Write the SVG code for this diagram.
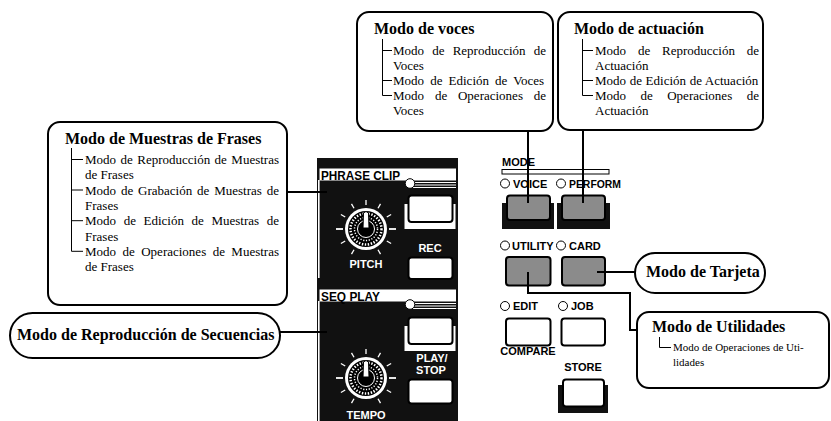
<svg xmlns="http://www.w3.org/2000/svg" width="831" height="421" viewBox="0 0 831 421">
  <defs>
    <style>
      .box { fill: #fff; stroke: #000; stroke-width: 2; }
      .wire { fill: none; stroke: #000; stroke-width: 2; }
      .tree { fill: none; stroke: #000; stroke-width: 1; }
      .title { font-family: "Liberation Serif", "Times New Roman", serif; font-weight: bold; font-size: 16px; fill: #000; }
      .item { font-family: "Liberation Serif", "Times New Roman", serif; font-size: 13px; fill: #000; }
      .item-sm { font-family: "Liberation Serif", "Times New Roman", serif; font-size: 11px; fill: #000; }
      .lbl { font-family: "Liberation Sans", Arial, sans-serif; font-weight: bold; font-size: 11px; fill: #000; }
      .plbl { font-family: "Liberation Sans", Arial, sans-serif; font-weight: bold; font-size: 11px; fill: #fff; text-anchor: middle; }
      .sect { font-family: "Liberation Sans", Arial, sans-serif; font-weight: bold; font-size: 12px; fill: #000; }
      .led { fill: #fff; stroke: #000; stroke-width: 1; }
      .btn-gray { fill: #8b8b8b; stroke: #000; stroke-width: 2; }
      .btn-white { fill: #fff; stroke: #000; stroke-width: 2; }
      .shadow { fill: #111; }
      .tick { stroke: #fff; stroke-width: 1.3; }
      .stripe { stroke: #fff; stroke-width: 1; }
    </style>
    <!-- rotary knob with scale ticks, centred on the origin -->
    <g id="knob">
      <g class="tick">
        <line x1="0" y1="-24" x2="0" y2="-29"/>
        <line x1="0" y1="-24" x2="0" y2="-29" transform="rotate(30)"/>
        <line x1="0" y1="-24" x2="0" y2="-29" transform="rotate(60)"/>
        <line x1="0" y1="-23" x2="0" y2="-30" transform="rotate(90)" stroke-width="1.8"/>
        <line x1="0" y1="-24" x2="0" y2="-29" transform="rotate(120)"/>
        <line x1="0" y1="-24" x2="0" y2="-29" transform="rotate(150)"/>
        <line x1="0" y1="-24" x2="0" y2="-29" transform="rotate(-30)"/>
        <line x1="0" y1="-24" x2="0" y2="-29" transform="rotate(-60)"/>
        <line x1="0" y1="-23" x2="0" y2="-30" transform="rotate(-90)" stroke-width="1.8"/>
        <line x1="0" y1="-24" x2="0" y2="-29" transform="rotate(-120)"/>
        <line x1="0" y1="-24" x2="0" y2="-29" transform="rotate(-150)"/>
      </g>
      <circle r="21" fill="#fff"/>
      <circle r="18" fill="#000"/>
      <circle r="15.5" fill="none" stroke="#fff" stroke-width="2.5" stroke-dasharray="1.4 1.6"/>
      <circle r="11.5" fill="none" stroke="#fff" stroke-width="1.5" stroke-dasharray="1.2 1.6"/>
      <circle r="8.5" fill="#000" stroke="#fff" stroke-width="1"/>
      <path d="M-3,-1 L-2.5,-16 Q0,-19 2.5,-16 L3,-1 Z" fill="#fff" stroke="#000" stroke-width="1"/>
    </g>
  </defs>

  <rect width="831" height="421" fill="#fff"/>

  <!-- front panel: PHRASE CLIP and SEQ PLAY sections -->
  <g id="panel-left">
    <rect x="317" y="158" width="141" height="263" fill="#111"/>
    <!-- PHRASE CLIP -->
    <rect x="319.5" y="168.5" width="136.5" height="12" fill="#fff"/>
    <text class="sect" x="321" y="179.5" textLength="79" lengthAdjust="spacingAndGlyphs">PHRASE CLIP</text>
    <line class="stripe" x1="412" y1="182.5" x2="456" y2="182.5"/>
    <line class="stripe" x1="412" y1="185" x2="456" y2="185"/>
    <line class="stripe" x1="412" y1="187.5" x2="456" y2="187.5"/>
    <circle class="led" cx="410" cy="183.5" r="4.8"/>
    <rect x="318" y="180" width="1.6" height="98" fill="#fff"/>
    <rect x="404.5" y="204" width="51" height="25" fill="#fff"/>
    <rect class="btn-white" x="408.5" y="195.5" width="44" height="26.5" rx="3"/>
    <text class="plbl" x="430" y="252">REC</text>
    <rect class="btn-white" x="408.5" y="257.5" width="44" height="21.5" rx="3"/>
    <use href="#knob" x="366" y="229"/>
    <text class="plbl" x="366" y="268">PITCH</text>
    <!-- SEQ PLAY -->
    <rect x="319.5" y="289.5" width="136.5" height="12" fill="#fff"/>
    <text class="sect" x="321" y="300.5" textLength="59" lengthAdjust="spacingAndGlyphs">SEQ PLAY</text>
    <line class="stripe" x1="412" y1="303.5" x2="456" y2="303.5"/>
    <line class="stripe" x1="412" y1="306" x2="456" y2="306"/>
    <line class="stripe" x1="412" y1="308.5" x2="456" y2="308.5"/>
    <circle class="led" cx="410" cy="304.5" r="4.8"/>
    <rect x="318" y="301" width="1.6" height="120" fill="#fff"/>
    <rect x="404.5" y="326" width="51" height="25" fill="#fff"/>
    <rect class="btn-white" x="408.5" y="317.5" width="44" height="26.5" rx="3"/>
    <text class="plbl" x="432" y="361.5">PLAY/</text>
    <text class="plbl" x="431" y="373.5">STOP</text>
    <rect class="btn-white" x="408.5" y="379.5" width="44" height="24" rx="3"/>
    <use href="#knob" x="366" y="378"/>
    <text class="plbl" x="366" y="419">TEMPO</text>
  </g>

  <!-- MODE button block -->
  <g id="panel-mode">
    <text class="lbl" x="502" y="166" font-size="12">MODE</text>
    <rect x="502" y="169.5" width="107" height="4.5" fill="#fff" stroke="#000" stroke-width="1"/>
    <circle class="led" cx="505" cy="183.5" r="4.5"/>
    <text class="lbl" x="513" y="187.5">VOICE</text>
    <circle class="led" cx="561" cy="183.5" r="4.5"/>
    <text class="lbl" x="569" y="187.5" textLength="52" lengthAdjust="spacingAndGlyphs">PERFORM</text>
    <rect class="shadow" x="502" y="203" width="52" height="26"/>
    <rect class="shadow" x="557" y="203" width="53" height="26"/>
    <rect class="btn-gray" x="507" y="195.5" width="43" height="24.5" rx="3"/>
    <rect class="btn-gray" x="562" y="195.5" width="43" height="24.5" rx="3"/>

    <circle class="led" cx="505" cy="245.5" r="4.5"/>
    <text class="lbl" x="512" y="249.5">UTILITY</text>
    <circle class="led" cx="561" cy="245.5" r="4.5"/>
    <text class="lbl" x="569" y="249.5">CARD</text>
    <rect class="btn-gray" x="506" y="257" width="44.5" height="28.5" rx="3"/>
    <rect class="btn-gray" x="562" y="257" width="43" height="28.5" rx="3"/>

    <circle class="led" cx="505" cy="306" r="4.5"/>
    <text class="lbl" x="513" y="310">EDIT</text>
    <circle class="led" cx="563" cy="306" r="4.5"/>
    <text class="lbl" x="571" y="310">JOB</text>
    <rect class="btn-white" x="506" y="318.5" width="44.5" height="27" rx="3"/>
    <rect class="btn-white" x="561.5" y="318.5" width="43.5" height="27" rx="3"/>
    <text class="lbl" x="528" y="355" font-size="8" text-anchor="middle">COMPARE</text>
    <text class="lbl" x="583" y="371" text-anchor="middle">STORE</text>
    <rect class="shadow" x="558" y="385" width="50" height="28"/>
    <rect class="btn-white" x="563" y="379.5" width="41" height="27" rx="3"/>
  </g>

  <!-- connectors -->
  <g id="connectors">
    <line class="wire" x1="528" y1="131" x2="528" y2="203"/>
    <line class="wire" x1="583" y1="130" x2="583" y2="203"/>
    <line class="wire" x1="287" y1="192" x2="327" y2="192"/>
    <line class="wire" x1="280" y1="332" x2="327" y2="332"/>
    <line class="wire" x1="597" y1="272" x2="635" y2="272"/>
    <polyline class="wire" points="528,272 528,293 630,293 630,330 637,330"/>
  </g>

  <!-- Modo de voces -->
  <g id="node-voces">
    <rect class="box" x="357" y="12" width="196" height="119" rx="12"/>
    <text class="title" x="374" y="34">Modo de voces</text>
    <path class="tree" d="M382.5,39 V95.5 M382.5,50.5 H392 M382.5,80.5 H392 M382.5,95.5 H392"/>
    <text class="item" x="393" y="55" word-spacing="4.9">Modo de Reproducción de</text>
    <text class="item" x="393" y="70">Voces</text>
    <text class="item" x="393" y="85" word-spacing="2.87">Modo de Edición de Voces</text>
    <text class="item" x="393" y="100" word-spacing="7.57">Modo de Operaciones de</text>
    <text class="item" x="393" y="115">Voces</text>
  </g>

  <!-- Modo de actuación -->
  <g id="node-actuacion">
    <rect class="box" x="558" y="12" width="205" height="118" rx="12"/>
    <text class="title" x="574" y="34">Modo de actuación</text>
    <path class="tree" d="M582.5,39 V95.5 M582.5,50.5 H593 M582.5,80.5 H593 M582.5,95.5 H593"/>
    <text class="item" x="595" y="55" word-spacing="8.57">Modo de Reproducción de</text>
    <text class="item" x="595" y="70">Actuación</text>
    <text class="item" x="595" y="85" word-spacing="0.38">Modo de Edición de Actuación</text>
    <text class="item" x="595" y="100" word-spacing="11.2">Modo de Operaciones de</text>
    <text class="item" x="595" y="115">Actuación</text>
  </g>

  <!-- Modo de Muestras de Frases -->
  <g id="node-frases">
    <rect class="box" x="48" y="122" width="239" height="183" rx="12"/>
    <text class="title" x="65" y="143.5">Modo de Muestras de Frases</text>
    <path class="tree" d="M71.5,148 V251.3 M71.5,159.5 H83 M71.5,190 H83 M71.5,220.7 H83 M71.5,251.3 H83"/>
    <text class="item" x="85" y="164" word-spacing="1.2">Modo de Reproducción de Muestras</text>
    <text class="item" x="85" y="179.3">de Frases</text>
    <text class="item" x="85" y="194.6" word-spacing="1.6">Modo de Grabación de Muestras de</text>
    <text class="item" x="85" y="209.9">Frases</text>
    <text class="item" x="85" y="225.2" word-spacing="4.36">Modo de Edición de Muestras de</text>
    <text class="item" x="85" y="240.5">Frases</text>
    <text class="item" x="85" y="255.8" word-spacing="3.2">Modo de Operaciones de Muestras</text>
    <text class="item" x="85" y="271.1">de Frases</text>
  </g>

  <!-- Modo de Reproducción de Secuencias -->
  <g id="node-secuencias">
    <rect class="box" x="10" y="313" width="270" height="45" rx="22.5"/>
    <text class="title" x="17" y="340">Modo de Reproducción de Secuencias</text>
  </g>

  <!-- Modo de Tarjeta -->
  <g id="node-tarjeta">
    <rect class="box" x="635" y="253" width="130" height="40" rx="20"/>
    <text class="title" x="646" y="277">Modo de Tarjeta</text>
  </g>

  <!-- Modo de Utilidades -->
  <g id="node-utilidades">
    <rect class="box" x="637" y="312" width="192" height="76" rx="12"/>
    <text class="title" x="652" y="332">Modo de Utilidades</text>
    <path class="tree" d="M659.5,337 V347.5 H671"/>
    <text class="item-sm" x="673" y="351">Modo de Operaciones de Uti-</text>
    <text class="item-sm" x="673" y="366">lidades</text>
  </g>
</svg>
